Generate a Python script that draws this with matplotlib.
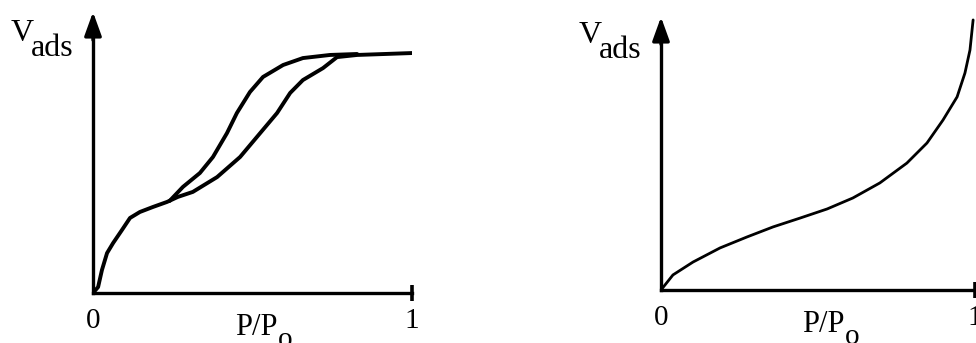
import matplotlib
matplotlib.use("Agg")
import matplotlib.pyplot as plt

plt.rcParams["font.family"] = ["Liberation Serif", "DejaVu Serif"]

# Type IV isotherm (left): adsorption and desorption branches, V normalised to plateau
ads_x = [0.0, 0.016, 0.028, 0.044, 0.063, 0.091, 0.116, 0.147, 0.188, 0.232, 0.266,
         0.313, 0.389, 0.461, 0.524, 0.577, 0.618, 0.658, 0.721, 0.765, 0.828, 1.0]
ads_y = [0.0, 0.025, 0.096, 0.167, 0.209, 0.264, 0.314, 0.339, 0.360, 0.381, 0.402,
         0.423, 0.485, 0.569, 0.669, 0.753, 0.837, 0.891, 0.941, 0.987, 0.996, 1.004]
des_x = [0.240, 0.282, 0.335, 0.376, 0.420, 0.451, 0.492, 0.533, 0.596, 0.658, 0.743, 0.828]
des_y = [0.385, 0.444, 0.502, 0.569, 0.669, 0.753, 0.841, 0.904, 0.954, 0.983, 0.996, 1.0]

# Type III isotherm (right)
t3_x = [0.0, 0.038, 0.102, 0.188, 0.274, 0.357, 0.443, 0.529, 0.611, 0.697, 0.783,
        0.847, 0.898, 0.943, 0.968, 0.984, 0.994]
t3_y = [0.0, 0.063, 0.117, 0.176, 0.222, 0.264, 0.301, 0.339, 0.385, 0.448, 0.531,
        0.615, 0.711, 0.808, 0.908, 1.004, 1.130]

tick_labels = ["0", "1"]

W, H = 976, 343


def px(x, y):
    return x / W, 1 - y / H


def setup_axes(fig, x0, x1, y_axis, y_top, unit=239.0):
    ax = fig.add_axes([x0 / W, (H - y_axis) / H, (x1 - x0) / W, (y_axis - y_top) / H])
    ax.set_xlim(0, 1)
    ax.set_ylim(0, (y_axis - y_top) / unit)
    for s in ["top", "right"]:
        ax.spines[s].set_visible(False)
    for s in ["left", "bottom"]:
        ax.spines[s].set_linewidth(2.4)
    ax.spines["left"].set_bounds(0, (y_axis - y_top - 16) / unit)
    ax.set_yticks([])
    ax.set_xticks([0, 1])
    ax.set_xticklabels(tick_labels, fontsize=21)
    ax.tick_params(axis="x", length=0, pad=11)
    ax.patch.set_visible(False)
    # arrow head on the V axis
    ax.annotate("", xy=(0, 1), xycoords="axes fraction", xytext=(0, 0.9),
                arrowprops=dict(arrowstyle="-|>,head_length=0.72,head_width=0.26",
                                mutation_scale=20, lw=2.4, color="black",
                                shrinkA=0, shrinkB=0))
    # end cap of the P/Po axis
    ax.plot([1], [0], marker="|", markersize=12, mew=2.6, color="black", clip_on=False)
    return ax


fig = plt.figure(figsize=(9.76, 3.43), dpi=100)

ax1 = setup_axes(fig, 93, 412, 293, 12)
ax1.plot(ads_x, ads_y, color="black", lw=2.8, solid_capstyle="round", solid_joinstyle="round")
ax1.plot(des_x, des_y, color="black", lw=2.8, solid_capstyle="round", solid_joinstyle="round")

ax2 = setup_axes(fig, 661, 975, 290, 17)
ax2.plot(t3_x, t3_y, color="black", lw=2.0, solid_capstyle="round", solid_joinstyle="round")


def vads(x, y):
    fig.text(*px(x, y), "V", fontsize=23, va="baseline", ha="left")
    fig.text(*px(x + 20, y + 15), "ads", fontsize=23, va="baseline", ha="left")


def ppo(x, y):
    t = fig.text(*px(x, y), "P/P", fontsize=22, va="baseline", ha="left")
    fig.canvas.draw()
    bb = t.get_window_extent()
    fig.text(bb.x1 / W, (H - y - 12) / H, "o", fontsize=21, va="baseline", ha="left")


vads(11, 41)
vads(579, 43)
ppo(235, 335)
ppo(802, 332)

fig.savefig("out.png", dpi=100)
